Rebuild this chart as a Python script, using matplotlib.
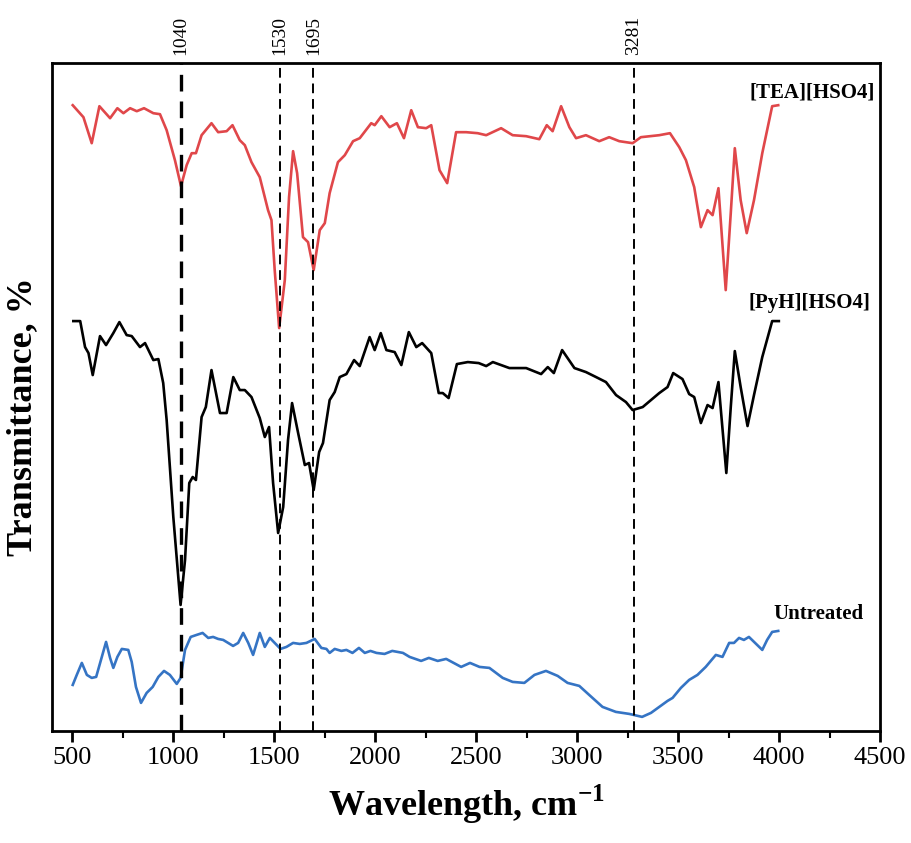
import matplotlib
matplotlib.use("Agg")
import matplotlib.pyplot as plt
import matplotlib.transforms as mtransforms
from matplotlib.ticker import MultipleLocator

plt.rcParams['font.family'] = ['Liberation Serif', 'DejaVu Serif']
plt.rcParams['mathtext.fontset'] = 'custom'
plt.rcParams['mathtext.rm'] = 'Liberation Serif'
plt.rcParams['mathtext.bf'] = 'Liberation Serif:bold'

# FTIR spectra, values (transmittance in arbitrary units)
tea_wn = [503, 556, 597, 635, 688, 724, 754, 787, 820, 856, 902, 935, 968, 1009, 1039,
          1067, 1092, 1113, 1141, 1190, 1223, 1265, 1294, 1330, 1355, 1388, 1429, 1470,
          1487, 1503, 1525, 1553, 1574, 1594, 1614, 1643, 1668, 1696, 1726, 1751, 1775,
          1816, 1850, 1891, 1924, 1981, 1998, 2031, 2072, 2108, 2143, 2179, 2212, 2253,
          2278, 2319, 2357, 2401, 2451, 2508, 2550, 2624, 2681, 2748, 2813, 2850, 2879,
          2921, 2962, 2995, 3044, 3110, 3159, 3209, 3275, 3316, 3407, 3460, 3506, 3539,
          3580, 3613, 3646, 3671, 3700, 3736, 3761, 3781, 3810, 3840, 3876, 3917, 3966, 3996]
tea_t = [62.6, 61.4, 58.8, 62.5, 61.3, 62.3, 61.8, 62.3, 62.0, 62.3, 61.8, 61.7, 60.1, 57.1, 54.5,
         56.6, 57.8, 57.8, 59.6, 60.8, 59.9, 60.0, 60.6, 59.1, 58.6, 56.9, 55.4, 52.1,
         51.1, 46.1, 40.3, 45.1, 53.4, 58.0, 55.8, 49.4, 48.9, 46.1, 50.1, 50.8, 53.8,
         56.9, 57.6, 59.0, 59.3, 60.8, 60.6, 61.5, 60.4, 60.8, 59.3, 62.1, 60.4, 60.3,
         60.6, 56.1, 54.8, 59.9, 59.9, 59.8, 59.6, 60.3, 59.6, 59.5, 59.2, 60.6, 60.0,
         62.5, 60.4, 59.3, 59.6, 59.0, 59.4, 59.0, 58.8, 59.4, 59.6, 59.8, 58.4, 57.1,
         54.4, 50.4, 52.1, 51.6, 54.3, 44.1, 51.8, 58.3, 53.1, 49.8, 53.1, 57.8, 62.5, 62.6]

pyh_wn = [506, 540, 564, 581, 602, 638, 668, 704, 734, 770, 795, 836, 861, 902, 927, 951,
          968, 1001, 1037, 1059, 1080, 1097, 1113, 1141, 1162, 1190, 1232, 1265, 1298,
          1330, 1355, 1388, 1429, 1454, 1475, 1495, 1520, 1545, 1569, 1589, 1619, 1652,
          1673, 1696, 1723, 1742, 1775, 1800, 1825, 1858, 1896, 1924, 1973, 1998, 2028,
          2056, 2097, 2130, 2167, 2204, 2233, 2278, 2315, 2335, 2364, 2405, 2459, 2513,
          2550, 2583, 2665, 2748, 2822, 2855, 2885, 2926, 2987, 3044, 3094, 3143, 3193,
          3242, 3275, 3325, 3407, 3448, 3476, 3522, 3555, 3580, 3613, 3646, 3671, 3700,
          3739, 3761, 3781, 3810, 3844, 3876, 3917, 3966, 3999]
pyh_t = [41.0, 41.0, 38.4, 37.8, 35.6, 39.5, 38.6, 39.8, 40.9, 39.6, 39.5, 38.4, 38.8, 37.1, 37.2, 34.8,
         31.1, 21.4, 12.6, 17.1, 24.8, 25.4, 25.1, 31.4, 32.4, 36.1, 31.8, 31.8, 35.4,
         34.1, 34.1, 33.4, 31.3, 29.4, 30.4, 24.8, 19.8, 22.4, 29.1, 32.8, 29.8, 26.6,
         26.8, 24.1, 27.9, 28.8, 33.1, 33.9, 35.4, 35.7, 37.1, 36.5, 39.4, 38.1, 39.8,
         38.1, 37.9, 36.6, 39.9, 38.4, 38.8, 37.8, 33.8, 33.8, 33.3, 36.7, 36.9, 36.8,
         36.5, 36.9, 36.3, 36.3, 35.7, 36.4, 35.8, 38.1, 36.3, 35.9, 35.4, 34.9, 33.6,
         32.9, 32.1, 32.4, 33.8, 34.4, 35.8, 35.2, 33.7, 33.4, 30.8, 32.6, 32.3, 34.9,
         25.8, 32.4, 38.0, 34.4, 30.5, 33.6, 37.4, 41.0, 41.0]

raw_wn = [503, 523, 548, 573, 597, 619, 647, 668, 688, 704, 724, 746, 778, 795, 816, 841,
          869, 899, 927, 955, 984, 1018, 1037, 1059, 1087, 1116, 1146, 1174, 1198, 1223,
          1248, 1297, 1322, 1347, 1372, 1396, 1429, 1454, 1479, 1503, 1532, 1561, 1594,
          1627, 1660, 1701, 1734, 1759, 1775, 1800, 1833, 1858, 1888, 1920, 1949, 1977,
          2007, 2047, 2085, 2138, 2171, 2228, 2266, 2310, 2352, 2426, 2470, 2517, 2566,
          2632, 2681, 2739, 2789, 2846, 2904, 2953, 3011, 3060, 3126, 3192, 3258, 3322,
          3366, 3407, 3448, 3473, 3514, 3555, 3596, 3637, 3687, 3720, 3753, 3777, 3802,
          3826, 3851, 3917, 3941, 3966, 3996]
raw_t = [4.6, 5.6, 6.8, 5.6, 5.3, 5.4, 7.4, 8.9, 7.3, 6.3, 7.4, 8.2, 8.1, 6.9, 4.4, 2.8,
         3.8, 4.4, 5.4, 6.0, 5.6, 4.7, 5.3, 8.1, 9.4, 9.6, 9.8, 9.3, 9.4, 9.2,
         9.1, 8.5, 8.8, 9.8, 8.8, 7.6, 9.8, 8.4, 9.3, 8.8, 8.2, 8.4, 8.8,
         8.7, 8.8, 9.2, 8.3, 8.2, 7.8, 8.2, 8.0, 8.1, 7.8, 8.3, 7.8, 8.0,
         7.8, 7.7, 8.0, 7.8, 7.4, 7.0, 7.3, 7.0, 7.2, 6.4, 6.8, 6.4, 6.3,
         5.3, 4.9, 4.8, 5.6, 6.0, 5.5, 4.8, 4.5, 3.6, 2.4, 1.9, 1.7, 1.4,
         1.8, 2.4, 3.0, 3.3, 4.3, 5.1, 5.6, 6.4, 7.6, 7.4, 8.8, 8.8, 9.3,
         9.1, 9.4, 8.1, 9.1, 9.9, 10.0]

peaks = [1040, 1530, 1695, 3281]
peak_labels = ['1040', '1530', '1695', '3281']

fig = plt.figure(figsize=(9.11, 8.43), dpi=100)
ax = fig.add_axes([0.057, 0.133, 0.909, 0.792])

ax.plot(tea_wn, tea_t, color='#e0474a', lw=1.9)
ax.plot(pyh_wn, pyh_t, color='black', lw=1.9)
ax.plot(raw_wn, raw_t, color='#3574c4', lw=1.9)

# marked bands
trans = mtransforms.blended_transform_factory(ax.transData, ax.transAxes)
for p, lab in zip(peaks, peak_labels):
    lw = 2.4 if p == 1040 else 1.4
    ax.axvline(p, color='black', lw=lw, ls=(0, (5, 3)))
    ax.text(p, 1.012, lab, transform=trans, rotation=90, ha='center', va='bottom',
            fontsize=14)

ax.text(4475, 63.9, '[TEA][HSO4]', ha='right', va='center', fontsize=15, fontweight='bold')
ax.text(4450, 42.8, '[PyH][HSO4]', ha='right', va='center', fontsize=15, fontweight='bold')
ax.text(4420, 11.7, 'Untreated', ha='right', va='center', fontsize=15, fontweight='bold')

ax.set_xlim(400, 4500)
ax.set_ylim(0, 66.8)
ax.xaxis.set_major_locator(MultipleLocator(500))
ax.xaxis.set_minor_locator(MultipleLocator(250))
ax.set_yticks([])
ax.tick_params(axis='x', which='major', direction='out', length=8, width=2, labelsize=19)
ax.tick_params(axis='x', which='minor', direction='out', length=5, width=1.5)
for s in ax.spines.values():
    s.set_linewidth(2)

ax.set_xlabel('Wavelength, cm$^{\\mathbf{-1}}$', fontsize=26, fontweight='bold', labelpad=10)
ax.set_ylabel('Transmittance, %', fontsize=26, fontweight='bold')
ax.yaxis.set_label_coords(-0.016, 0.47)

fig.savefig('out.png', dpi=100)
